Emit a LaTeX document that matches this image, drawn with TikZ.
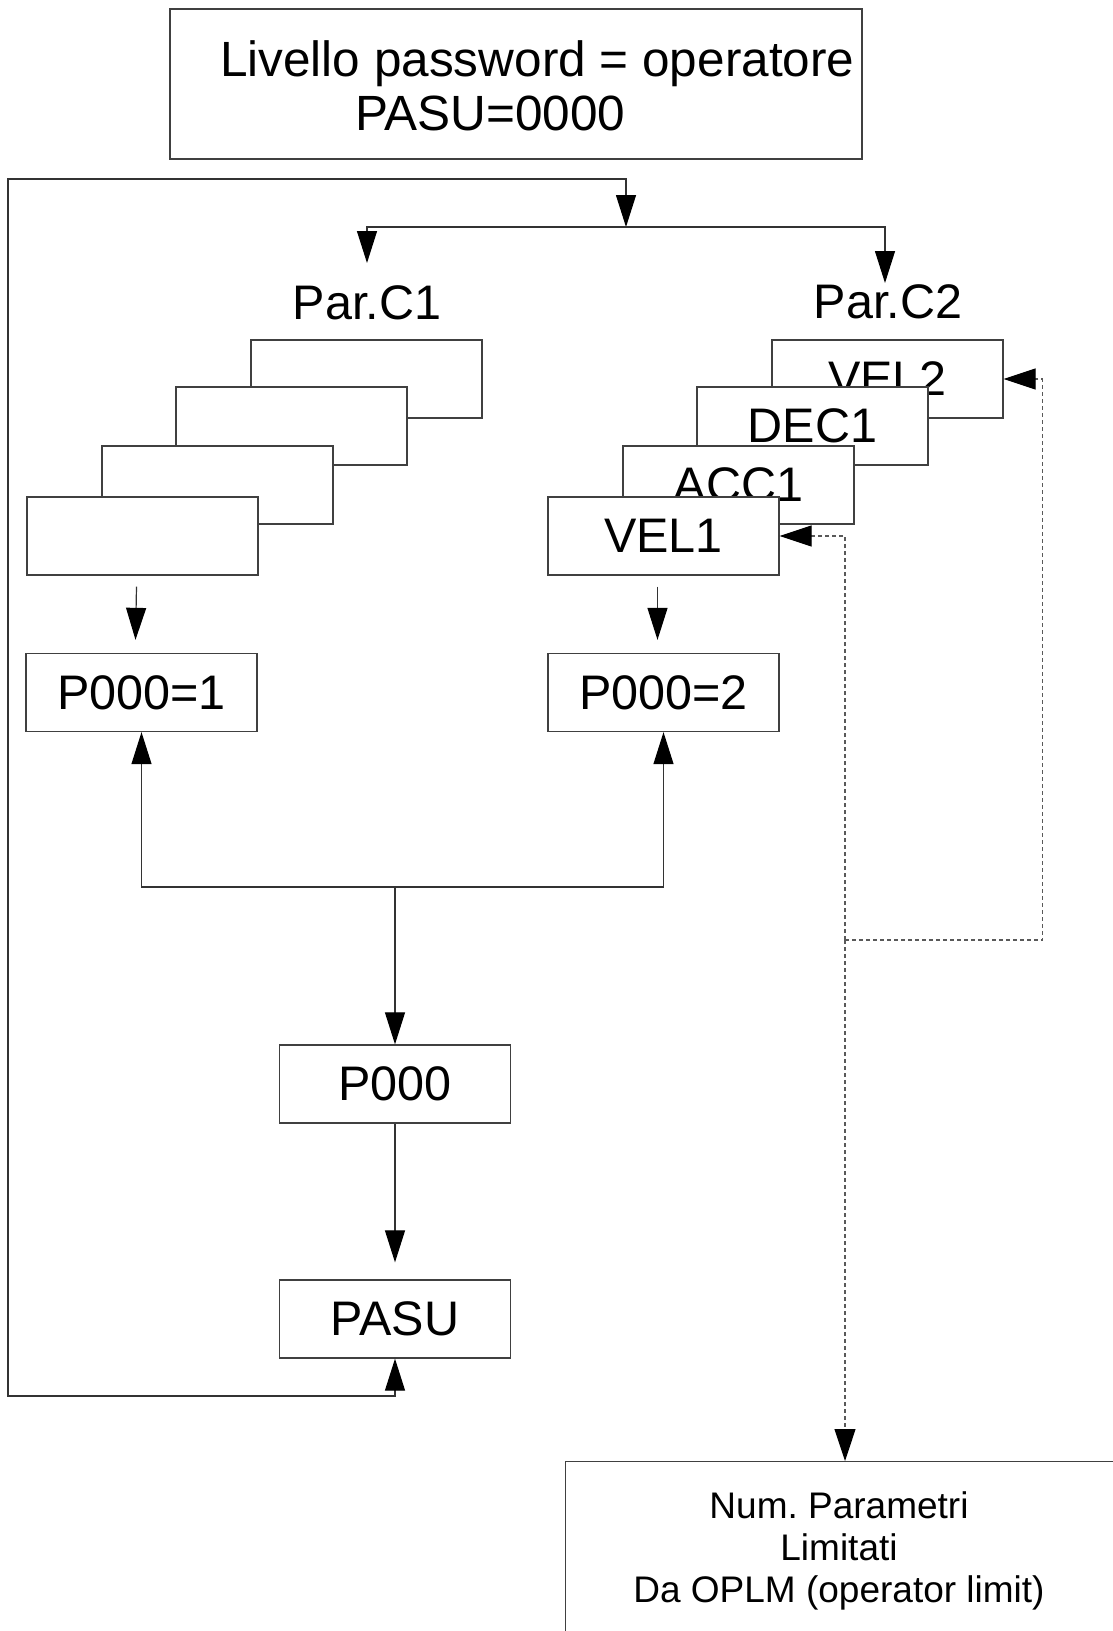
\documentclass[tikz,border=0pt]{standalone}
\usepackage{fontspec}
\setmainfont{Liberation Sans}
\usetikzlibrary{arrows.meta}
\frenchspacing
\begin{document}
\begin{tikzpicture}[x=1pt,y=-1pt,
  box/.style={draw=black!75, line width=1.3pt, fill=white, minimum width=231pt, minimum height=78pt, inner sep=0pt, font=\fontsize{48.5}{54}\selectfont},
  frame/.style={draw=black!75, line width=1.3pt, inner sep=0pt},
  lbl/.style={inner sep=0pt, font=\fontsize{48.5}{54}\selectfont},
  ttl/.style={inner sep=0pt, font=\fontsize{49.5}{54}\selectfont},
  ln/.style={draw=black!80, line width=1.2pt},
  tip/.style={-{Triangle[length=32pt,width=20pt,color=black]}},
  arr/.style={ln, tip},
  dsh/.style={draw=black!65, line width=1.1pt, dash pattern=on 4pt off 3pt},
  darr/.style={dsh, -{Triangle[length=32pt,width=21pt,color=black]}}]
\useasboundingbox (0,0) rectangle (1112,1631);
\fill[white] (0,0) rectangle (1112,1631);

% top box
\node[frame, minimum width=692pt, minimum height=150pt] (top) at (516,84) {};
\node[ttl, anchor=base west] (t1) at (220,76) {Livello password = operatore};
\node[ttl, anchor=base west] (t2) at (355,130) {PASU=0000};

% labels
\node[lbl, anchor=base] (c1) at (367,319) {Par.C1};
\node[lbl, anchor=base] (c2) at (888,318) {Par.C2};

% left stack
\node[box] (la) at (366.5,379) {};
\node[box] (lb) at (291.5,426) {};
\node[box] (lc) at (217.5,485) {};
\node[box] (ld) at (142.5,536) {};
% right stack
\node[box] (ra) at (887.5,379) {VEL2};
\node[box] (rb) at (812.5,426) {DEC1};
\node[box] (rc) at (738.5,485) {ACC1};
\node[box] (rd) at (663.5,536) {VEL1};

\node[box] (p1) at (141.5,692.5) {P000=1};
\node[box] (p2) at (663.5,692.5) {P000=2};
\node[box] (p0) at (395,1084) {P000};
\node[box] (pasu) at (395,1319) {PASU};

% bottom box
\node[frame, minimum width=548pt, minimum height=180pt, anchor=north west] (lim) at (565,1461) {};
\node[inner sep=0pt, align=center, anchor=base, font=\fontsize{37}{42}\selectfont] (limtxt) at (839,1602) {Num. Parametri\\Limitati\\Da OPLM (operator limit)};

% coordinates
\coordinate (spl) at (626,227);
\coordinate (c1arr) at (367,263);
\coordinate (c2arr) at (885,283);
\coordinate (loopbl) at (8,1396);
\coordinate (looptl) at (8,179);
\coordinate (jn) at (395,887);
\coordinate (dj) at (845,940);

% loop
\draw[ln, {Triangle[length=32pt,width=20pt,color=black]}-{Triangle[length=32pt,width=20pt,color=black]}]
  (pasu.south) |- (loopbl) -- (looptl) -| (spl);
\draw[arr] (spl) -| (c1arr);
\draw[arr] (spl) -| (c2arr);

% stack to P000=n
\draw[arr] ([xshift=-6pt,yshift=-11pt]ld.south) -- ([xshift=-6pt,yshift=13pt]p1.north);
\draw[arr] ([xshift=-6pt,yshift=-11pt]rd.south) -- ([xshift=-6pt,yshift=13pt]p2.north);

% join
\draw[arr] (jn) -| (p1.south);
\draw[arr] (jn) -| (p2.south);
\draw[arr] (jn) -- (p0.north);
\draw[arr, shorten >=17pt] (p0.south) -- (pasu.north);

% dashed
\draw[darr] (dj) |- (rd.east);
\draw[darr] (dj) -| ([xshift=39pt]ra.east) -- (ra.east);
\draw[darr] (dj) -- (dj |- lim.north);
\end{tikzpicture}
\end{document}
